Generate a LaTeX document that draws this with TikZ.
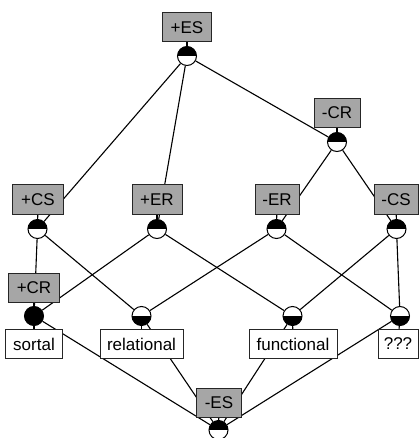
\documentclass[tikz,border=0pt]{standalone}
\usepackage{fontspec}
\setsansfont{Liberation Sans}
\usetikzlibrary{backgrounds}
\definecolor{boxgray}{RGB}{166,166,166}
\begin{document}
\begin{tikzpicture}[x=1pt,y=-1pt,
  lab/.style={draw=black!85, line width=1pt, font=\sffamily\fontsize{17}{19}\selectfont, minimum height=29pt, inner xsep=5pt, inner ysep=0pt},
  attr/.style={lab, fill=boxgray},
  obj/.style={lab, fill=white},
  conc/.style={circle, draw=black, line width=1pt, fill=white, minimum size=19pt, inner sep=0pt},
  upc/.style={conc, path picture={\fill[black] (path picture bounding box.west) rectangle (path picture bounding box.north east);}},
  lowc/.style={conc, path picture={\fill[black] (path picture bounding box.south west) rectangle (path picture bounding box.east);}},
  fullc/.style={conc, fill=black},
  edge/.style={line width=1.1pt, black}
]
\useasboundingbox (0,0) rectangle (418,438);
% concepts
\node[upc] (cT) at (187,56) {};
\node[upc] (cmCR) at (337,142) {};
\node[upc] (cpCS) at (37.5,229) {};
\node[upc] (cpER) at (157,229) {};
\node[upc] (cmER) at (276.5,229) {};
\node[upc] (cmCS) at (396.5,229) {};
\node[fullc] (cpCR) at (34,316) {};
\node[lowc] (crel) at (141.5,316) {};
\node[lowc] (cfun) at (292.5,316) {};
\node[lowc] (cqqq) at (400,316) {};
\node[upc] (cB) at (218.5,430) {};
% labels
\node[attr, minimum width=49pt] (lpES) at (187,27.5) {+ES};
\node[attr, minimum width=46pt] (lmCR) at (337,113) {-CR};
\node[attr, minimum width=51pt] (lpCS) at (38,199.5) {+CS};
\node[attr, minimum width=50pt] (lpER) at (157,199.5) {+ER};
\node[attr, minimum width=44pt] (lmER) at (277,199.5) {-ER};
\node[attr, minimum width=44pt] (lmCS) at (396,199.5) {-CS};
\node[attr, minimum width=51pt] (lpCR) at (34,287.5) {+CR};
\node[obj, minimum width=57pt] (lsor) at (34,344) {sortal};
\node[obj, minimum width=83pt] (lrel) at (141.5,344) {relational};
\node[obj, minimum width=88pt] (lfun) at (293,344) {functional};
\node[obj, minimum width=40pt] (lqqq) at (398,344) {???};
\node[attr, minimum width=45pt] (lmES) at (219,402.5) {-ES};
\begin{pgfonlayer}{background}
\draw[edge] (cT) -- (cpCS);
\draw[edge] (cT) -- (cpER);
\draw[edge] (cT) -- (cmCR);
\draw[edge] (cmCR) -- (cmER);
\draw[edge] (cmCR) -- (cmCS);
\draw[edge] (cpCS) -- (cpCR);
\draw[edge] (cpCS) -- (crel);
\draw[edge] (cpER) -- (cpCR);
\draw[edge] (cpER) -- (cfun);
\draw[edge] (cmER) -- (crel);
\draw[edge] (cmER) -- (cqqq);
\draw[edge] (cmCS) -- (cfun);
\draw[edge] (cmCS) -- (cqqq);
\draw[edge] (cpCR) -- (cB);
\draw[edge] (crel) -- (cB);
\draw[edge] (cfun) -- (cB);
\draw[edge] (cqqq) -- (cB);
% stubs
\draw[edge] (lpES) -- (cT);
\draw[edge] (lmCR) -- (cmCR);
\draw[edge] (lpCS) -- (cpCS);
\draw[edge] (lpER) -- (cpER);
\draw[edge] (lmER) -- (cmER);
\draw[edge] (lmCS) -- (cmCS);
\draw[edge] (lpCR) -- (cpCR);
\draw[edge] (cpCR) -- (lsor);
\draw[edge] (crel) -- (lrel);
\draw[edge] (cfun) -- (lfun);
\draw[edge] (cqqq) -- (lqqq);
\draw[edge] (lmES) -- (cB);
\end{pgfonlayer}
\end{tikzpicture}
\end{document}
